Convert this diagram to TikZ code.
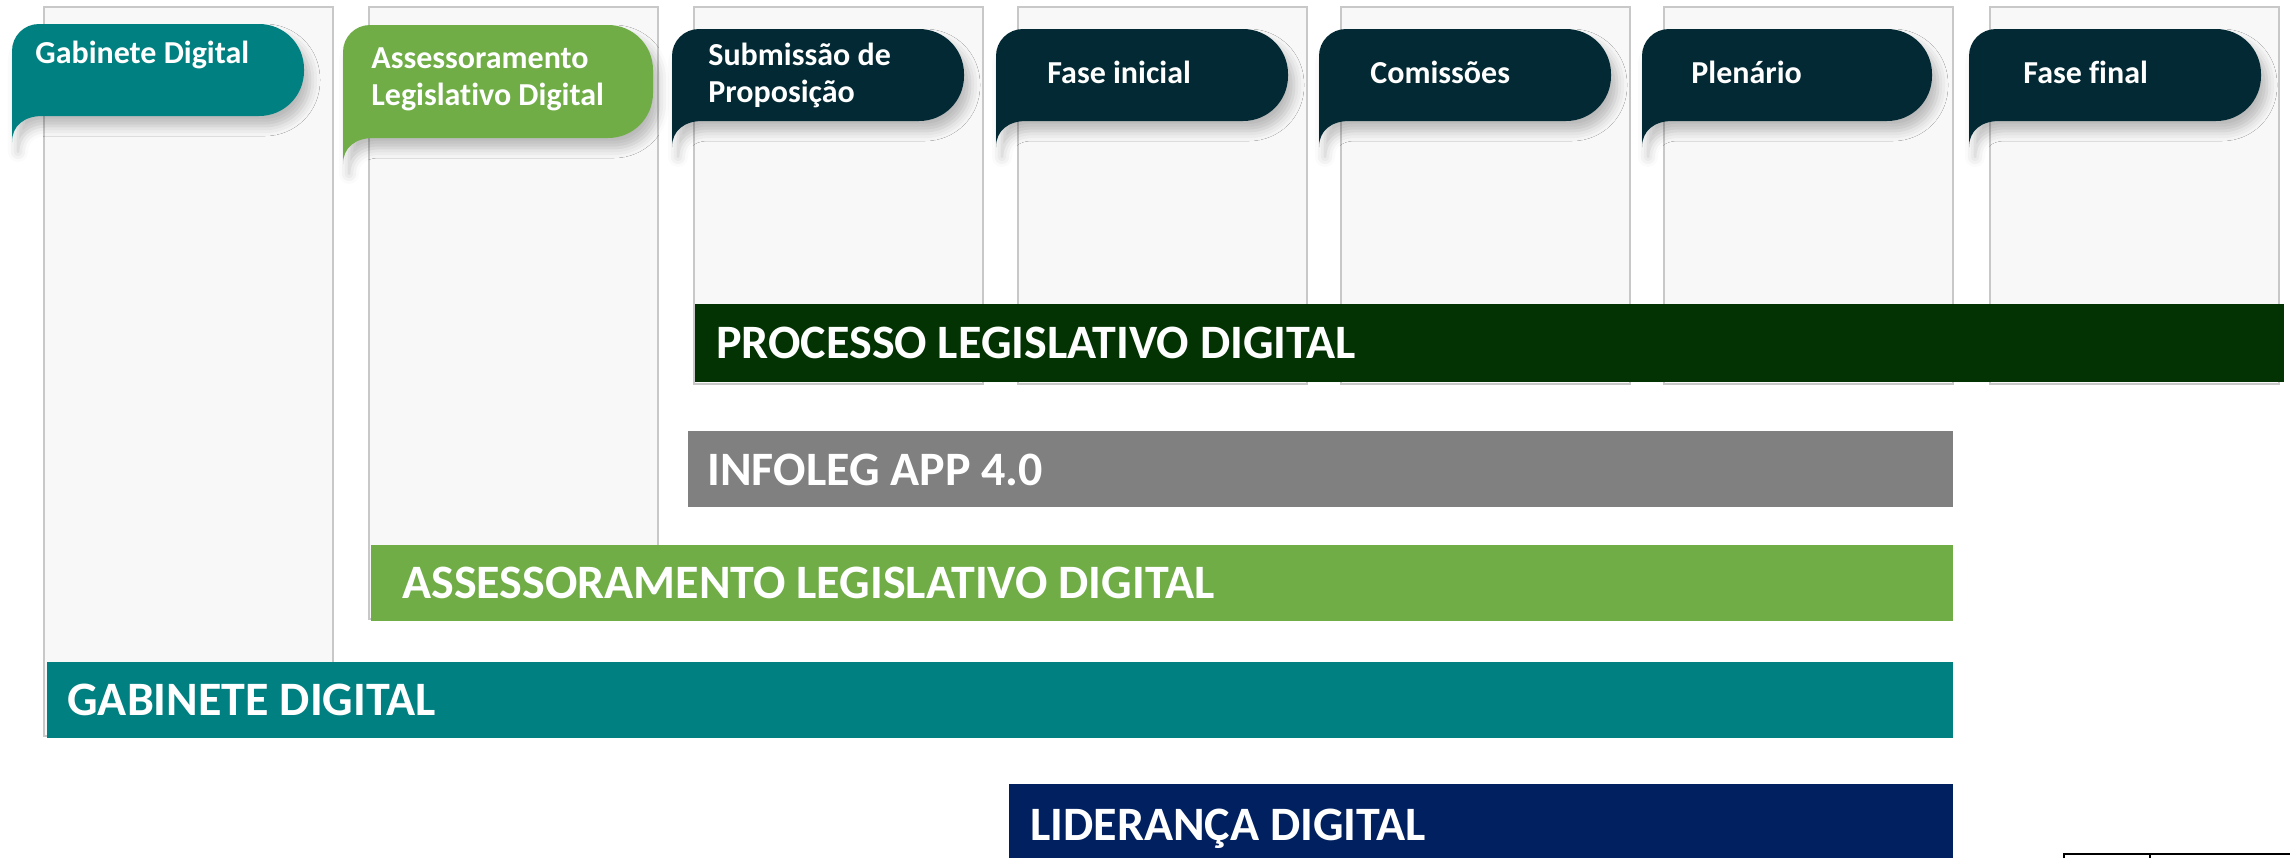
\documentclass[tikz,border=0pt]{standalone}
\usepackage{fontspec}
\setmainfont{Carlito}[Ligatures=NoCommon]
\usetikzlibrary{shadows.blur}

\definecolor{gabteal}{HTML}{008080}
\definecolor{assgreen}{HTML}{70AD47}
\definecolor{phasedark}{HTML}{032A34}
\definecolor{procgreen}{HTML}{033303}
\definecolor{infogray}{HTML}{808080}
\definecolor{lidnavy}{HTML}{002060}
\definecolor{colline}{HTML}{C8C8C8}
\definecolor{colfill}{HTML}{F8F8F8}

% speech tab: left, right, top, bottom, colour
\newcommand{\speechtab}[5]{%
  \fill[#5, tabshadow]
    (#1,{#3+27}) .. controls (#1,{#3+12}) and ({#1+12},#3) .. ({#1+27},#3)
    -- ({#2-45},#3) .. controls ({#2-20},#3) and (#2,{#3+20}) .. (#2,{#3+45})
    -- (#2,{#4-45}) .. controls (#2,{#4-20}) and ({#2-20},#4) .. ({#2-45},#4)
    -- ({#1+30},#4) .. controls ({#1+12},#4) and (#1,{#4+10}) .. (#1,{#4+26})
    -- cycle;}

\begin{document}
\begin{tikzpicture}[x=0.5pt, y=-0.5pt,
    column/.style={draw=colline, line width=1pt, fill=colfill},
    tabshadow/.style={blur shadow={shadow xshift=3pt, shadow yshift=-5pt,
        shadow opacity=25, shadow blur radius=5pt}},
    tabtext/.style={text=white, font=\fontsize{16}{18.5}\selectfont\bfseries,
        anchor=base west, align=left, inner sep=0pt},
    bartext/.style={text=white, font=\fontsize{24}{28}\selectfont\bfseries,
        anchor=base west, inner sep=0pt}]
    \useasboundingbox (0,0) rectangle (2290,858);

    % columns
    \draw[column] (44,7) rectangle (333,736);
    \draw[column] (369,7) rectangle (658,619);
    \foreach \x in {694,1018,1341,1664,1990}
      \draw[column] (\x,7) rectangle ++(289,377);

    % bars
    \fill[procgreen] (695,304) rectangle (2284,382);
    \fill[infogray] (688,431) rectangle (1953,507);
    \fill[assgreen] (371,545) rectangle (1953,621);
    \fill[gabteal] (47,662) rectangle (1953,738);
    \fill[lidnavy] (1009,784) rectangle (1953,858);

    \node[bartext] (processo) at (716,358) {PROCESSO LEGISLATIVO DIGITAL};
    \node[bartext] (infoleg) at (707,485) {INFOLEG APP 4.0};
    \node[bartext] (assessoramento) at (402,598) {ASSESSORAMENTO LEGISLATIVO DIGITAL};
    \node[bartext] (gabinete) at (67,715) {GABINETE DIGITAL};
    \node[bartext] (lideranca) at (1030,840) {LIDERANÇA DIGITAL};

    % tabs
    \speechtab{12}{304}{24}{116}{gabteal}
    \speechtab{343}{653}{25}{138}{assgreen}
    \speechtab{672}{964}{29}{121}{phasedark}
    \speechtab{996}{1288}{29}{121}{phasedark}
    \speechtab{1319}{1611}{29}{121}{phasedark}
    \speechtab{1642}{1932}{29}{121}{phasedark}
    \speechtab{1969}{2261}{29}{121}{phasedark}

    % base of a two-line label is its last line
    \node[tabtext] (tgab) at (35,63) {Gabinete Digital};
    \node[tabtext] (tass) at (371,105) {Assessoramento\\Legislativo Digital};
    \node[tabtext] (tsub) at (708,102) {Submissão de\\Proposição};
    \node[tabtext] (tini) at (1047,83) {Fase inicial};
    \node[tabtext] (tcom) at (1370,83) {Comissões};
    \node[tabtext] (tple) at (1691,83) {Plenário};
    \node[tabtext] (tfin) at (2023,83) {Fase final};

    % table edge
    \draw[line width=1pt] (2064,858) -- (2064,854) -- (2290,854);
    \draw[line width=1pt] (2150,854) -- (2150,858);
\end{tikzpicture}
\end{document}
